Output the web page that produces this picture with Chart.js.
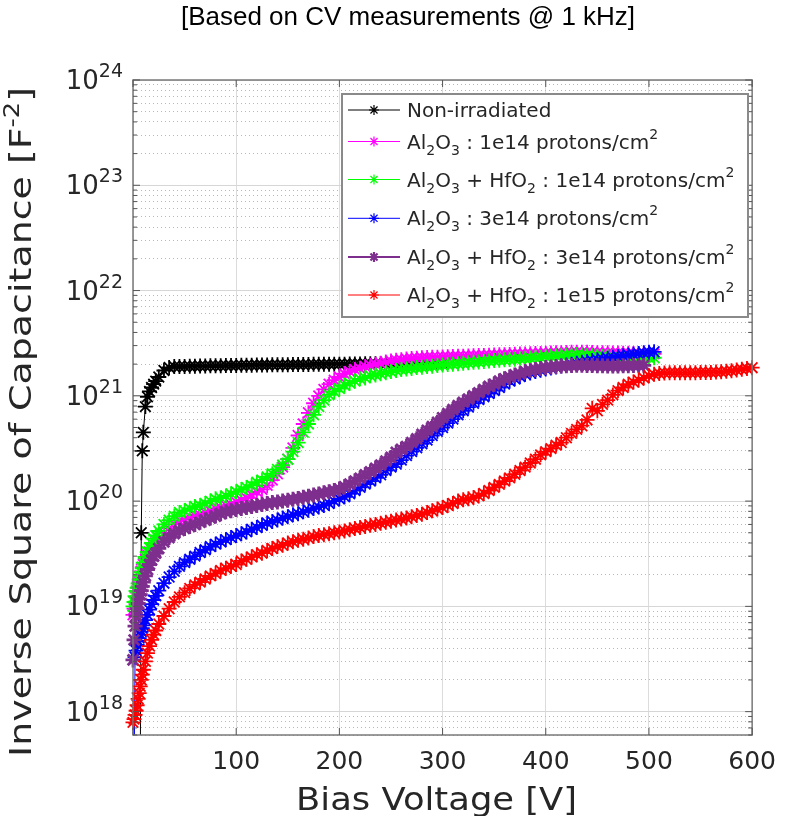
<!DOCTYPE html>
<html>
<head>
<meta charset="utf-8">
<script src="https://cdn.jsdelivr.net/npm/chart.js@4.4.1/dist/chart.umd.min.js"></script>
<style>
  body { margin: 0; background: #fff; }
  canvas { display: block; }
</style>
</head>
<body>
<canvas id="cv-chart" width="788" height="816"></canvas>
<script>
// bias voltage grid [V], shared by all curves
var voltage = [
  0, 1, 2, 3, 4, 5, 6, 7, 8, 9,
  10, 12, 14, 16, 18, 20, 22, 25, 30, 35,
  40, 45, 50, 55, 60, 65, 70, 75, 80, 85,
  90, 95, 100, 105, 110, 115, 120, 125, 130, 135,
  140, 145, 150, 155, 160, 165, 170, 175, 180, 185,
  190, 195, 200, 205, 210, 215, 220, 225, 230, 235,
  240, 245, 250, 255, 260, 265, 270, 275, 280, 285,
  290, 295, 300, 305, 310, 315, 320, 325, 330, 335,
  340, 345, 350, 355, 360, 365, 370, 375, 380, 385,
  390, 395, 400, 405, 410, 415, 420, 425, 430, 435,
  440, 445, 450, 455, 460, 465, 470, 475, 480, 485,
  490, 495, 500, 505, 510, 515, 520, 525, 530, 535,
  540, 545, 550, 555, 560, 565, 570, 575, 580, 585,
  590, 595, 600
];

// 1/C^2 [F^-2]
var nonIrradiated = [
  null, null, null, null, null, null, null, 2e17, 5e19, 3e20,
  4.5e20, 7.9e20, 9.8e20, 1.1e21, 1.2e21, 1.29e21, 1.38e21, 1.51e21, 1.74e21, 1.86e21,
  1.9e21, 1.9e21, 1.9e21, 1.91e21, 1.91e21, 1.92e21, 1.92e21, 1.93e21, 1.93e21, 1.93e21,
  1.94e21, 1.94e21, 1.94e21, 1.95e21, 1.95e21, 1.95e21, 1.96e21, 1.96e21, 1.96e21, 1.97e21,
  1.97e21, 1.97e21, 1.97e21, 1.98e21, 1.98e21, 1.98e21, 1.98e21, 1.99e21, 1.99e21, 1.99e21,
  2.0e21, 2.0e21, 2.0e21, 2.0e21, 2.01e21, 2.01e21, 2.01e21, 2.02e21, 2.02e21, 2.02e21,
  2.02e21, 2.03e21, 2.03e21, 2.03e21, 2.03e21, 2.04e21, 2.04e21, 2.04e21, 2.04e21, 2.05e21,
  2.05e21, 2.05e21, 2.05e21
];

var al2o3_1e14 = [
  8.3e18, 9.5e18, 1.1e19, 1.23e19, 1.35e19, 1.5e19, 1.7e19, 1.9e19, 2.15e19, 2.35e19,
  2.5e19, 2.8e19, 3.1e19, 3.3e19, 3.55e19, 3.8e19, 4.1e19, 4.45e19, 5.0e19, 5.5e19,
  6.0e19, 6.5e19, 6.8e19, 7.1e19, 7.3e19, 7.4e19, 7.8e19, 8.1e19, 8.5e19, 8.7e19,
  9.1e19, 9.3e19, 9.8e19, 1.02e20, 1.07e20, 1.15e20, 1.23e20, 1.29e20, 1.41e20, 1.58e20,
  1.82e20, 2.1e20, 2.5e20, 3.2e20, 4.2e20, 5.4e20, 6.9e20, 8.5e20, 1.0e21, 1.15e21,
  1.29e21, 1.41e21, 1.51e21, 1.62e21, 1.7e21, 1.78e21, 1.82e21, 1.9e21, 1.95e21, 2.0e21,
  2.04e21, 2.09e21, 2.14e21, 2.18e21, 2.2e21, 2.24e21, 2.26e21, 2.28e21, 2.3e21, 2.31e21,
  2.32e21, 2.33e21, 2.34e21, 2.35e21, 2.36e21, 2.37e21, 2.38e21, 2.39e21, 2.4e21, 2.41e21,
  2.42e21, 2.43e21, 2.44e21, 2.45e21, 2.46e21, 2.47e21, 2.48e21, 2.49e21, 2.5e21, 2.51e21,
  2.52e21, 2.53e21, 2.54e21, 2.55e21, 2.56e21, 2.57e21, 2.58e21, 2.59e21, 2.6e21, 2.6e21,
  2.59e21, 2.58e21, 2.57e21, 2.56e21, 2.56e21, 2.55e21, 2.55e21, 2.54e21, 2.54e21, 2.53e21,
  2.53e21, 2.52e21, 2.52e21, 2.5e21
];

var al2o3Hfo2_1e14 = [
  1.0e19, 1.1e19, 1.25e19, 1.4e19, 1.5e19, 1.65e19, 1.8e19, 1.95e19, 2.1e19, 2.3e19,
  2.6e19, 2.95e19, 3.3e19, 3.6e19, 4.0e19, 4.4e19, 4.7e19, 5.2e19, 6.0e19, 6.6e19,
  7.2e19, 7.8e19, 8.1e19, 8.5e19, 8.9e19, 9.1e19, 9.5e19, 1.0e20, 1.05e20, 1.07e20,
  1.12e20, 1.17e20, 1.23e20, 1.29e20, 1.35e20, 1.41e20, 1.51e20, 1.58e20, 1.7e20, 1.82e20,
  2.0e20, 2.2e20, 2.5e20, 2.95e20, 3.6e20, 4.5e20, 5.4e20, 6.6e20, 7.9e20, 9.1e20,
  1.02e21, 1.1e21, 1.17e21, 1.26e21, 1.32e21, 1.38e21, 1.45e21, 1.48e21, 1.55e21, 1.58e21,
  1.62e21, 1.66e21, 1.7e21, 1.74e21, 1.78e21, 1.8e21, 1.82e21, 1.86e21, 1.87e21, 1.9e21,
  1.91e21, 1.94e21, 1.96e21, 1.98e21, 2.0e21, 2.02e21, 2.04e21, 2.06e21, 2.08e21, 2.1e21,
  2.12e21, 2.14e21, 2.16e21, 2.18e21, 2.2e21, 2.21e21, 2.23e21, 2.25e21, 2.27e21, 2.29e21,
  2.31e21, 2.33e21, 2.35e21, 2.37e21, 2.39e21, 2.41e21, 2.43e21, 2.44e21, 2.45e21, 2.44e21,
  2.42e21, 2.4e21, 2.38e21, 2.36e21, 2.35e21, 2.34e21, 2.33e21, 2.32e21, 2.31e21, 2.3e21,
  2.3e21, 2.3e21, 2.3e21, 2.3e21
];

var al2o3_3e14 = [
  null, 2e17, 3.3e18, 3.8e18, 4.3e18, 4.7e18, 5.0e18, 5.4e18, 5.75e18, 6.2e18,
  6.6e18, 7.4e18, 8.3e18, 9.3e18, 1.05e19, 1.15e19, 1.26e19, 1.41e19, 1.66e19, 1.9e19,
  2.15e19, 2.4e19, 2.6e19, 2.8e19, 3.0e19, 3.25e19, 3.45e19, 3.7e19, 3.9e19, 4.1e19,
  4.3e19, 4.5e19, 4.7e19, 4.9e19, 5.1e19, 5.4e19, 5.6e19, 5.9e19, 6.2e19, 6.4e19,
  6.6e19, 6.9e19, 7.1e19, 7.4e19, 7.6e19, 7.9e19, 8.2e19, 8.5e19, 8.8e19, 9.1e19,
  9.5e19, 1.0e20, 1.05e20, 1.1e20, 1.17e20, 1.26e20, 1.35e20, 1.45e20, 1.55e20, 1.66e20,
  1.78e20, 1.95e20, 2.1e20, 2.25e20, 2.45e20, 2.7e20, 2.95e20, 3.2e20, 3.5e20, 3.8e20,
  4.2e20, 4.6e20, 5.0e20, 5.5e20, 6.0e20, 6.6e20, 7.2e20, 7.8e20, 8.5e20, 9.2e20,
  9.8e20, 1.05e21, 1.12e21, 1.2e21, 1.29e21, 1.38e21, 1.45e21, 1.52e21, 1.6e21, 1.65e21,
  1.7e21, 1.75e21, 1.8e21, 1.84e21, 1.88e21, 1.92e21, 1.96e21, 2.0e21, 2.04e21, 2.08e21,
  2.12e21, 2.16e21, 2.2e21, 2.24e21, 2.28e21, 2.32e21, 2.36e21, 2.4e21, 2.44e21, 2.48e21,
  2.52e21, 2.56e21, 2.6e21, 2.62e21
];

var al2o3Hfo2_3e14 = [
  3.1e18, 4.8e18, 6.5e18, 8.1e18, 9.5e18, 1.07e19, 1.17e19, 1.29e19, 1.41e19, 1.55e19,
  1.7e19, 1.95e19, 2.24e19, 2.5e19, 2.75e19, 3.0e19, 3.2e19, 3.55e19, 4.1e19, 4.5e19,
  4.9e19, 5.25e19, 5.5e19, 5.75e19, 6.0e19, 6.3e19, 6.6e19, 6.9e19, 7.2e19, 7.6e19,
  7.9e19, 8.1e19, 8.3e19, 8.5e19, 8.7e19, 8.9e19, 9.1e19, 9.3e19, 9.5e19, 9.7e19,
  9.8e19, 1.0e20, 1.02e20, 1.04e20, 1.06e20, 1.09e20, 1.11e20, 1.14e20, 1.17e20, 1.2e20,
  1.23e20, 1.26e20, 1.3e20, 1.37e20, 1.45e20, 1.55e20, 1.65e20, 1.78e20, 1.9e20, 2.05e20,
  2.2e20, 2.4e20, 2.6e20, 2.9e20, 3.1e20, 3.3e20, 3.6e20, 3.9e20, 4.3e20, 4.7e20,
  5.1e20, 5.6e20, 6.2e20, 6.8e20, 7.4e20, 8.1e20, 8.7e20, 9.3e20, 1.0e21, 1.07e21,
  1.15e21, 1.23e21, 1.29e21, 1.38e21, 1.45e21, 1.51e21, 1.58e21, 1.62e21, 1.7e21, 1.74e21,
  1.78e21, 1.82e21, 1.86e21, 1.88e21, 1.9e21, 1.92e21, 1.93e21, 1.94e21, 1.95e21, 1.95e21,
  1.94e21, 1.94e21, 1.93e21, 1.93e21, 1.92e21, 1.92e21, 1.92e21, 1.93e21, 1.93e21, 1.94e21,
  1.95e21, 1.95e21
];

var al2o3Hfo2_1e15 = [
  7.9e17, 8.5e17, 9.3e17, 1.02e18, 1.15e18, 1.32e18, 1.5e18, 1.74e18, 2.0e18, 2.25e18,
  2.5e18, 3.0e18, 3.6e18, 4.2e18, 4.8e18, 5.4e18, 5.9e18, 6.8e18, 8.1e18, 9.5e18,
  1.1e19, 1.23e19, 1.35e19, 1.48e19, 1.6e19, 1.7e19, 1.82e19, 1.95e19, 2.05e19, 2.2e19,
  2.3e19, 2.4e19, 2.5e19, 2.7e19, 2.8e19, 2.95e19, 3.1e19, 3.2e19, 3.4e19, 3.55e19,
  3.7e19, 3.8e19, 4.0e19, 4.1e19, 4.25e19, 4.35e19, 4.45e19, 4.6e19, 4.7e19, 4.8e19,
  4.9e19, 5.0e19, 5.1e19, 5.2e19, 5.35e19, 5.5e19, 5.6e19, 5.75e19, 5.9e19, 6.0e19,
  6.15e19, 6.3e19, 6.45e19, 6.6e19, 6.75e19, 6.9e19, 7.1e19, 7.3e19, 7.5e19, 7.8e19,
  8.1e19, 8.4e19, 8.7e19, 9.1e19, 9.5e19, 1.0e20, 1.03e20, 1.05e20, 1.08e20, 1.12e20,
  1.18e20, 1.26e20, 1.35e20, 1.44e20, 1.55e20, 1.66e20, 1.8e20, 1.95e20, 2.1e20, 2.3e20,
  2.5e20, 2.75e20, 2.95e20, 3.15e20, 3.4e20, 3.6e20, 4.0e20, 4.4e20, 4.8e20, 5.2e20,
  5.9e20, 7.6e20, 7.2e20, 8.3e20, 9.1e20, 1.02e21, 1.12e21, 1.2e21, 1.29e21, 1.35e21,
  1.41e21, 1.48e21, 1.55e21, 1.6e21, 1.63e21, 1.65e21, 1.66e21, 1.66e21, 1.66e21, 1.66e21,
  1.66e21, 1.66e21, 1.67e21, 1.67e21, 1.67e21, 1.68e21, 1.69e21, 1.71e21, 1.73e21, 1.76e21,
  1.79e21, 1.82e21, 1.85e21
];

// legend text: _{..} subscript, ^{..} superscript
var seriesLabels = [
  'Non-irradiated',
  'Al_{2}O_{3} : 1e14 protons/cm^{2}',
  'Al_{2}O_{3} + HfO_{2} : 1e14 protons/cm^{2}',
  'Al_{2}O_{3} : 3e14 protons/cm^{2}',
  'Al_{2}O_{3} + HfO_{2} : 3e14 protons/cm^{2}',
  'Al_{2}O_{3} + HfO_{2} : 1e15 protons/cm^{2}'
];
var seriesValues = [nonIrradiated, al2o3_1e14, al2o3Hfo2_1e14, al2o3_3e14, al2o3Hfo2_3e14, al2o3Hfo2_1e15];
var seriesColors = ['#000000', '#ff00ff', '#00ff00', '#0000ff', '#7e2f8e', '#ff0000'];
var lineWidths = [1, 1, 1, 1, 2, 1];
var markerWidths = [1.8, 1.8, 1.8, 1.8, 2.8, 1.8];

var xTicks = [100, 200, 300, 400, 500, 600];
var yDecades = [18, 19, 20, 21, 22, 23, 24];

var FONT = "'DejaVu Sans', sans-serif";
var TEXT = '#262626';

function mantissa(v) {
  return v / Math.pow(10, Math.floor(Math.log10(v) + 1e-9));
}

function richParts(str) {
  var parts = [], re = /([_^])\{([^}]*)\}/g, last = 0, m;
  while ((m = re.exec(str))) {
    if (m.index > last) parts.push({ t: str.slice(last, m.index), mode: 0 });
    parts.push({ t: m[2], mode: m[1] === '_' ? 1 : 2 });
    last = re.lastIndex;
  }
  if (last < str.length) parts.push({ t: str.slice(last), mode: 0 });
  return parts;
}

// draws text with sub/superscripts, returns width
function drawRich(ctx, str, x, y, size, small, dSub, dSup, measureOnly) {
  var w = 0;
  richParts(str).forEach(function (p) {
    ctx.font = (p.mode ? small : size) + 'px ' + FONT;
    if (!measureOnly) {
      ctx.fillText(p.t, x + w, y + (p.mode === 1 ? dSub : (p.mode === 2 ? -dSup : 0)));
    }
    w += ctx.measureText(p.t).width;
  });
  return w;
}

function drawStar(ctx, x, y, r) {
  var d = r * Math.SQRT1_2;
  ctx.beginPath();
  ctx.moveTo(x - r, y); ctx.lineTo(x + r, y);
  ctx.moveTo(x, y - r); ctx.lineTo(x, y + r);
  ctx.moveTo(x - d, y - d); ctx.lineTo(x + d, y + d);
  ctx.moveTo(x - d, y + d); ctx.lineTo(x + d, y - d);
  ctx.stroke();
}

var datasets = seriesValues.map(function (vals, i) {
  var pts = [];
  vals.forEach(function (v, k) {
    if (v !== null) pts.push({ x: voltage[k], y: v });
  });
  return {
    label: seriesLabels[i],
    data: pts,
    borderColor: seriesColors[i],
    borderWidth: lineWidths[i],
    pointStyle: 'star',
    pointRadius: 7.5,
    pointBorderColor: seriesColors[i],
    pointBackgroundColor: seriesColors[i],
    pointBorderWidth: markerWidths[i],
    tension: 0,
    order: seriesValues.length - i,
    clip: { left: 8, right: 8, top: 8, bottom: 0 }
  };
});

var overlay = {
  id: 'overlay',
  afterDraw: function (chart) {
    var ctx = chart.ctx, a = chart.chartArea;
    var xs = chart.scales.x, ys = chart.scales.y;
    ctx.save();

    // axes box
    ctx.strokeStyle = '#7a7a7a';
    ctx.lineWidth = 1.5;
    ctx.strokeRect(a.left, a.top, a.right - a.left, a.bottom - a.top);

    // inward tick marks on all four sides
    ctx.lineWidth = 1;
    ctx.strokeStyle = '#555';
    ctx.beginPath();
    xs.ticks.forEach(function (t) {
      var px = xs.getPixelForValue(t.value);
      ctx.moveTo(px, a.bottom); ctx.lineTo(px, a.bottom - 7);
      ctx.moveTo(px, a.top); ctx.lineTo(px, a.top + 7);
    });
    ys.ticks.forEach(function (t) {
      var m = mantissa(t.value);
      if (Math.abs(m - 1.5) < 0.01) return;
      var len = Math.abs(m - 1) < 0.01 ? 7 : 4;
      var py = ys.getPixelForValue(t.value);
      if (py > a.bottom || py < a.top) return;
      ctx.moveTo(a.left, py); ctx.lineTo(a.left + len, py);
      ctx.moveTo(a.right, py); ctx.lineTo(a.right - len, py);
    });
    ctx.stroke();

    // y tick labels 10^n
    ctx.fillStyle = TEXT;
    ctx.textBaseline = 'alphabetic';
    yDecades.forEach(function (n) {
      var py = ys.getPixelForValue(Math.pow(10, n));
      var s = '10^{' + n + '}';
      var w = drawRich(ctx, s, 0, 0, 26, 19, 0, 12, true);
      drawRich(ctx, s, a.left - 10 - w, py + 9, 26, 19, 0, 12, false);
    });

    // y axis title
    var yTitle = 'Inverse Square of Capacitance [F^{-2}]';
    var wy = drawRich(ctx, yTitle, 0, 0, 31, 21, 0, 12, true);
    ctx.save();
    ctx.translate(31, 422);
    ctx.rotate(-Math.PI / 2);
    ctx.scale(670 / wy, 1);
    drawRich(ctx, yTitle, -wy / 2, 0, 31, 21, 0, 12, false);
    ctx.restore();

    // x axis title
    var xTitle = 'Bias Voltage [V]';
    var wx = drawRich(ctx, xTitle, 0, 0, 32, 22, 0, 12, true);
    ctx.save();
    ctx.translate((a.left + a.right) / 2 - 6, 810);
    ctx.scale(281 / wx, 1);
    drawRich(ctx, xTitle, -wx / 2, 0, 32, 22, 0, 12, false);
    ctx.restore();

    // chart title
    ctx.fillStyle = '#000';
    ctx.font = "26px 'Liberation Sans', Arial, sans-serif";
    ctx.textAlign = 'center';
    ctx.fillText('[Based on CV measurements @ 1 kHz]', 408, 25);
    ctx.textAlign = 'left';

    // legend
    var lx = 342, ly = 94, lw = 406, lh = 223;
    ctx.fillStyle = '#fff';
    ctx.fillRect(lx, ly, lw, lh);
    ctx.strokeStyle = '#8a8a8a';
    ctx.lineWidth = 2;
    ctx.strokeRect(lx, ly, lw, lh);
    var rowY = [110, 141.5, 179.5, 218.3, 257, 295];
    seriesLabels.forEach(function (label, i) {
      var y = rowY[i];
      ctx.strokeStyle = seriesColors[i];
      ctx.lineWidth = lineWidths[i];
      ctx.beginPath();
      ctx.moveTo(348, y); ctx.lineTo(400, y);
      ctx.stroke();
      ctx.lineWidth = markerWidths[i] - 0.6;
      drawStar(ctx, 374, y, 5);
      ctx.fillStyle = TEXT;
      drawRich(ctx, label, 407, y + 7, 20, 14, 6, 10, false);
    });

    ctx.restore();
  }
};

Chart.defaults.font.family = FONT;

new Chart(document.getElementById('cv-chart'), {
  type: 'line',
  data: { datasets: datasets },
  options: {
    responsive: false,
    animation: false,
    devicePixelRatio: 1,
    events: [],
    layout: { padding: { top: 80, right: 31, left: 0, bottom: 0 } },
    plugins: {
      legend: { display: false },
      tooltip: { enabled: false },
      title: { display: false }
    },
    scales: {
      x: {
        type: 'linear',
        min: 0,
        max: 600,
        ticks: {
          stepSize: 100,
          color: TEXT,
          padding: 12,
          font: { size: 25 },
          callback: function (v) { return xTicks.indexOf(v) >= 0 ? String(v) : ''; }
        },
        grid: { color: '#dcdcdc', lineWidth: 1, drawTicks: false },
        border: { display: false },
        afterFit: function (s) { s.height = 81; }
      },
      y: {
        type: 'logarithmic',
        min: 6e17,
        max: 1e24,
        ticks: { display: false, autoSkip: false },
        grid: {
          drawTicks: false,
          lineWidth: 1,
          color: function (c) {
            if (!c.tick) return '#dcdcdc';
            var m = mantissa(c.tick.value);
            if (Math.abs(m - 1.5) < 0.01) return 'rgba(0,0,0,0)';
            return Math.abs(m - 1) < 0.01 ? '#d6d6d6' : '#b8b8b8';
          }
        },
        border: {
          display: false,
          dash: function (c) {
            if (!c.tick) return [];
            return Math.abs(mantissa(c.tick.value) - 1) < 0.01 ? [] : [1, 3];
          }
        },
        afterFit: function (s) { s.width = 133; }
      }
    }
  },
  plugins: [overlay]
});
</script>
</body>
</html>
